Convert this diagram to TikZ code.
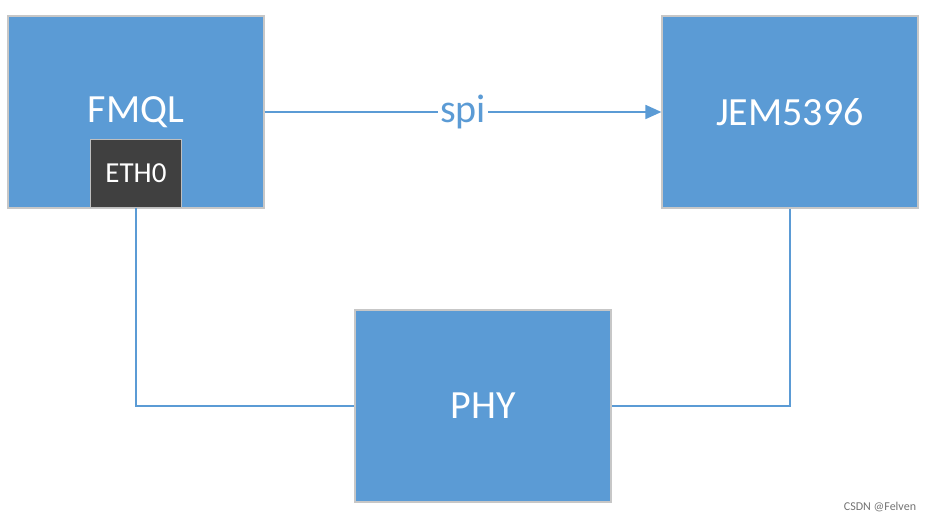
\documentclass[tikz,border=0pt]{standalone}
\usepackage{fontspec}
\setmainfont{Carlito}
\usetikzlibrary{positioning,arrows.meta}
\definecolor{boxblue}{HTML}{5B9BD5}
\definecolor{portgray}{HTML}{404040}
\tikzset{
	block/.style={draw=black!22,line width=1.2pt,fill=boxblue,text=white,
		minimum width=256pt,minimum height=192pt,font=\fontsize{40}{40}\selectfont},
	port/.style={draw=black!25,line width=1.2pt,fill=portgray,text=white,
		minimum width=91pt,minimum height=68pt,font=\fontsize{29}{29}\selectfont},
	link/.style={color=boxblue,line width=1.8pt}
}
\begin{document}
\begin{tikzpicture}[x=1pt,y=-1pt]
	\useasboundingbox (0,0) rectangle (933,521);
	\node[block] (fmql) at (136,112) {FMQL};
	\node[port,anchor=south] (eth) at (136,208) {ETH0};
	\node[block] (jem) at (790,112) {JEM5396};
	\node[block] (phy) at (483,406) {PHY};
	\draw[link,-{Triangle[length=16pt,width=14pt]}]
	(fmql) -- node [fill=white,inner sep=2pt,
		font=\fontsize{40}{40}\selectfont] {spi} (jem);
	\draw[link] (eth) |- (phy);
	\draw[link] (jem) |- (phy);
	\node[text=black!55,font=\fontsize{12}{12}\selectfont] (mark) at (880,507) {CSDN @Felven};
\end{tikzpicture}
\end{document}
